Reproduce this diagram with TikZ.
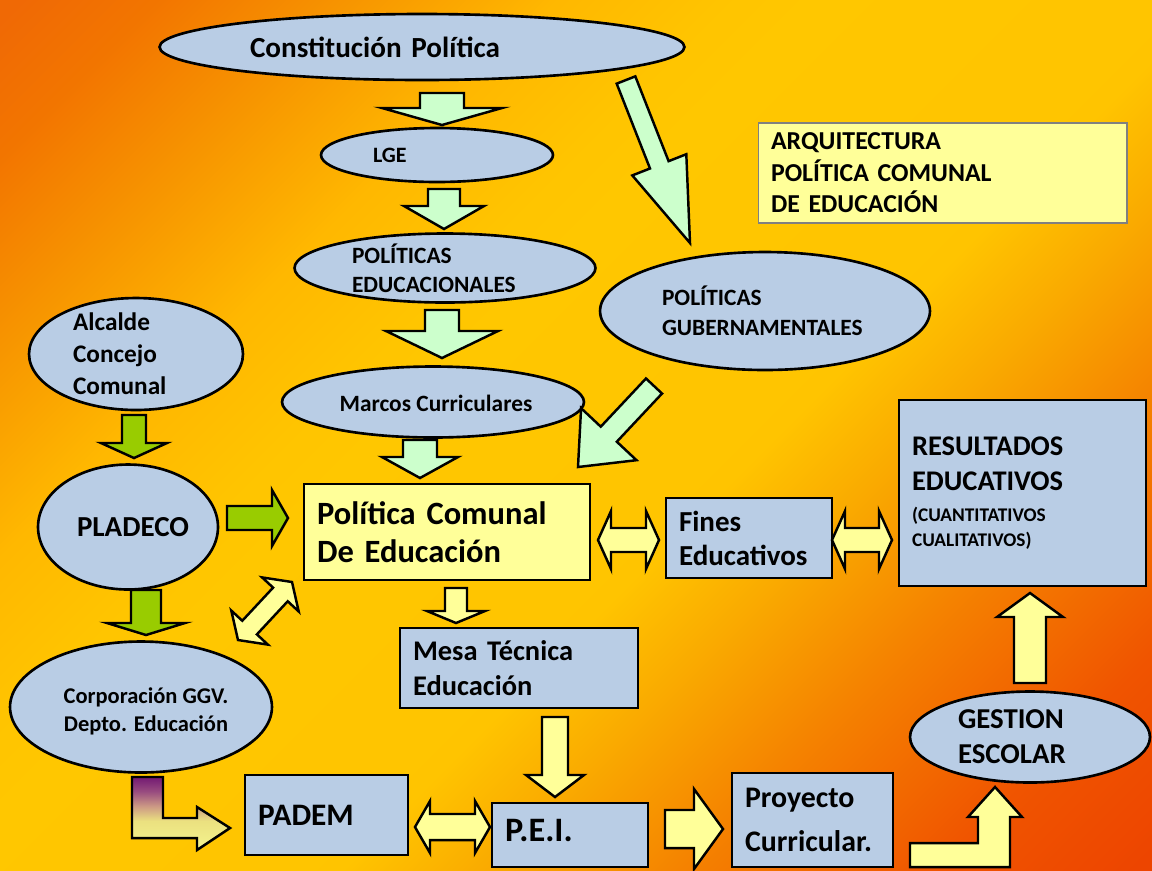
\documentclass[tikz,border=0pt]{standalone}
\usepackage{fontspec}
\setmainfont{Carlito}
\usetikzlibrary{calc,shapes.geometric}

\definecolor{nodeblue}{RGB}{185,205,229}
\definecolor{paleyellow}{RGB}{255,255,153}
\definecolor{mintgreen}{RGB}{204,255,204}
\definecolor{olive}{RGB}{153,204,0}

\pgfdeclareverticalshading{bgshade}{100bp}{%
  rgb(0bp)=(0.93,0.27,0); rgb(15bp)=(0.93,0.27,0); rgb(22bp)=(0.94,0.33,0);
  rgb(31bp)=(0.96,0.51,0); rgb(38bp)=(0.98,0.67,0); rgb(43bp)=(1,0.77,0);
  rgb(57bp)=(1,0.78,0); rgb(60bp)=(1,0.77,0); rgb(66bp)=(1,0.72,0);
  rgb(73bp)=(0.97,0.59,0); rgb(80bp)=(0.95,0.46,0); rgb(85bp)=(0.94,0.41,0.02);
  rgb(100bp)=(0.94,0.41,0.02)}
\pgfdeclareverticalshading{padshade}{100bp}{%
  rgb(0bp)=(0.96,0.96,0.56); rgb(25bp)=(0.96,0.96,0.56); rgb(45bp)=(0.92,0.88,0.5);
  rgb(55bp)=(0.8,0.6,0.52); rgb(65bp)=(0.6,0.3,0.5); rgb(75bp)=(0.45,0.1,0.45);
  rgb(100bp)=(0.45,0.1,0.45)}

\newcommand{\fs}[2]{\fontsize{#1}{#2}\selectfont\bfseries}

% block arrow: [style]{tail}{tip}{shaft half width}{head half width}{head length}, in px
\newcommand{\fatarrow}[6][]{%
  \coordinate (fa-t) at (#2);
  \coordinate (fa-p) at (#3);
  \coordinate (fa-b) at ($(fa-p)!#6*0.02cm!(fa-t)$);
  \draw[#1] ($(fa-t)!#4*0.02cm!90:(fa-p)$)
    -- ($(fa-b)!#4*0.02cm!90:(fa-p)$)
    -- ($(fa-b)!#5*0.02cm!90:(fa-p)$)
    -- (fa-p)
    -- ($(fa-b)!#5*0.02cm!-90:(fa-p)$)
    -- ($(fa-b)!#4*0.02cm!-90:(fa-p)$)
    -- ($(fa-t)!#4*0.02cm!-90:(fa-p)$) -- cycle;}

% double block arrow, same arguments
\newcommand{\dblarrow}[6][]{%
  \coordinate (da-t) at (#2);
  \coordinate (da-p) at (#3);
  \coordinate (da-b) at ($(da-p)!#6*0.02cm!(da-t)$);
  \coordinate (da-a) at ($(da-t)!#6*0.02cm!(da-p)$);
  \draw[#1] ($(da-a)!#4*0.02cm!90:(da-p)$)
    -- ($(da-b)!#4*0.02cm!90:(da-p)$)
    -- ($(da-b)!#5*0.02cm!90:(da-p)$)
    -- (da-p)
    -- ($(da-b)!#5*0.02cm!-90:(da-p)$)
    -- ($(da-b)!#4*0.02cm!-90:(da-p)$)
    -- ($(da-a)!#4*0.02cm!-90:(da-p)$)
    -- ($(da-a)!#5*0.02cm!-90:(da-p)$)
    -- (da-t)
    -- ($(da-a)!#5*0.02cm!90:(da-p)$) -- cycle;}

\begin{document}
\begin{tikzpicture}
[
  x=0.02cm, y=-0.02cm,
  oval/.style={ellipse, draw, fill=nodeblue, line width=1.5pt, inner sep=0pt},
  box/.style={rectangle, draw, fill=nodeblue, line width=1.5pt, inner xsep=0.26cm, inner ysep=0pt, align=left},
  txt/.style={inner sep=0pt, align=left},
  mintarrow/.style={draw, fill=mintgreen, line width=1.4pt},
  greenarrow/.style={draw, fill=olive, line width=1.4pt},
  yelarrow/.style={draw, fill=paleyellow, line width=1.4pt}
]

\useasboundingbox (0,0) rectangle (1152,870);
\shade[shading=bgshade, shading angle=45] (0,0) rectangle (1152,870);

% ellipses
\node[oval, minimum width=10.5cm, minimum height=1.32cm] (const) at (422,47) {};
\node[txt, text width=6.88cm, font=\fs{16.6}{20}] (const-t) at (const) {Constitución Política};

\node[oval, minimum width=4.64cm, minimum height=1.08cm] (lge) at (437,155) {};
\node[txt, text width=2.56cm, font=\fs{12.5}{14}] (lge-t) at (lge) {LGE};

\node[oval, minimum width=6.02cm, minimum height=1.38cm] (poled) at (445,268) {};
\node[txt, text width=3.72cm, font=\fs{13.3}{16.4}] (poled-t) at (poled) {POLÍTICAS\\EDUCACIONALES};

\node[oval, minimum width=6.6cm, minimum height=2.36cm] (polgub) at (765,311) {};
\node[txt, text width=4.12cm, font=\fs{13.3}{17}] (polgub-t) at (polgub) {POLÍTICAS\\GUBERNAMENTALES};

\node[oval, minimum width=6.04cm, minimum height=1.42cm] (marcos) at (433,402) {};
\node[txt, font=\fs{13.3}{16}] (marcos-t) at (436,403) {Marcos Curriculares};

\node[oval, minimum width=4.28cm, minimum height=2.24cm] (alcalde) at (136,354) {};
\node[txt, text width=2.52cm, font=\fs{14.4}{18.1}] (alcalde-t) at (alcalde) {Alcalde\\Concejo\\Comunal};

\node[oval, minimum width=3.6cm, minimum height=2.5cm] (pladeco) at (128,527) {};
\node[txt, font=\fs{16.5}{20}] (pladeco-t) at (133,527) {PLADECO};

\node[oval, minimum width=5.24cm, minimum height=2.62cm] (corp) at (141,707) {};
\node[txt, align=center, font=\fs{12.8}{16}] (corp-t) at (146,711) {Corporación GGV.\\Depto. Educación};

\node[oval, minimum width=4.8cm, minimum height=1.82cm] (gestion) at (1030,737) {};
\node[txt, text width=2.88cm, font=\fs{16.4}{19.8}] (gestion-t) at (gestion) {GESTION\\ESCOLAR};

% boxes
\node[box, fill=paleyellow, minimum width=5.72cm, minimum height=1.92cm, text width=5.2cm, font=\fs{18.5}{21.5}] (pce) at (447,532) {Política Comunal\\De Educación};
\node[box, minimum width=3.32cm, minimum height=1.6cm, text width=2.8cm, font=\fs{16.5}{19.3}] (fines) at (749,538) {Fines\\Educativos};
\node[box, minimum width=4.94cm, minimum height=3.72cm, text width=4.42cm, font=\fs{16.2}{20}] (result) at (1022.5,493) {RESULTADOS\\EDUCATIVOS\\[-2.5pt]{\fs{11}{13}(CUANTITATIVOS}\\[-6pt]{\fs{11}{13}CUALITATIVOS)}};
\node[box, minimum width=4.76cm, minimum height=1.6cm, text width=4.24cm, font=\fs{16.2}{19.8}] (mesa) at (519,668) {Mesa Técnica\\Educación};
\node[box, minimum width=3.26cm, minimum height=1.6cm, text width=2.74cm, font=\fs{17.8}{21}] (padem) at (326.5,815) {PADEM};
\node[box, minimum width=3.12cm, minimum height=1.28cm, text width=2.6cm, font=\fs{19.5}{23}] (pei) at (570,835) {\raisebox{5.6pt}{P.E.I.}};
\node[box, minimum width=3.22cm, minimum height=1.88cm, text width=2.7cm, font=\fs{17}{25.5}] (proy) at (812.5,820) {Proyecto\\Curricular.};
\node[box, draw=gray, line width=0.6pt, fill=paleyellow, minimum width=7.34cm, minimum height=2cm, text width=6.86cm, font=\fs{14.7}{17.9}] (arq) at (942.5,173) {ARQUITECTURA\\POLÍTICA COMUNAL\\DE EDUCACIÓN};

% mint arrows
\fatarrow[mintarrow]{442,93}{442,125}{22}{60}{17}
\fatarrow[mintarrow]{444,189}{444,229}{16}{40}{23}
\fatarrow[mintarrow]{442,310}{442,358}{17}{56}{27}
\fatarrow[mintarrow]{420,440}{420,478}{17}{38}{21}
\fatarrow[mintarrow]{626,80}{690,243}{10}{29}{84}
\fatarrow[mintarrow]{654,386}{578,467}{11}{38}{45}

% green arrows
\fatarrow[greenarrow]{134,415}{134,458}{12}{33}{15}
\fatarrow[greenarrow]{227,518}{288,518}{12}{28}{16}
\fatarrow[greenarrow]{146,590}{146,635}{15}{39}{12}

% yellow arrows
\dblarrow[yelarrow]{238,640}{292,582}{10}{25}{17}
\fatarrow[yelarrow]{456,588}{456,623}{11}{29}{12}
\dblarrow[yelarrow]{598,540}{659,540}{12}{29}{13}
\dblarrow[yelarrow]{832,540}{892,540}{12}{29}{13}
\fatarrow[yelarrow]{555,717}{555,797}{13}{29}{22}
\dblarrow[yelarrow]{415,827}{490,827}{13}{26}{15}
\fatarrow[yelarrow]{665,829}{723,829}{19}{40}{29}
\fatarrow[yelarrow]{1030,683}{1030,593}{16}{33}{24}

% elbow arrows
\draw[yelarrow] (910,843) -- (978,843) -- (978,817) -- (968,817) -- (995,787)
  -- (1022,817) -- (1010,817) -- (1010,867) -- (910,867) -- cycle;
\shadedraw[shading=padshade, line width=1.4pt] (132,777) -- (163,777) -- (163,818)
  -- (197,818) -- (197,807) -- (230,828) -- (197,850) -- (197,838) -- (132,838) -- cycle;

\end{tikzpicture}
\end{document}
